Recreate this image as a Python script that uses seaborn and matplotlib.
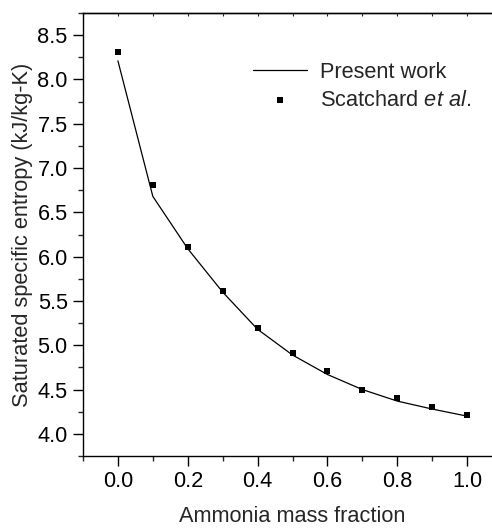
import numpy as np
import pandas as pd
import seaborn as sns
import matplotlib.pyplot as plt
from matplotlib.ticker import MultipleLocator

# Data
x_line = [0.0, 0.1, 0.2, 0.3, 0.4, 0.5, 0.6, 0.7, 0.8, 0.9, 1.0]
s_line = [8.21, 6.68, 6.09, 5.60, 5.18, 4.89, 4.67, 4.50, 4.37, 4.28, 4.20]

x_exp = [0.0, 0.1, 0.2, 0.3, 0.4, 0.5, 0.6, 0.7, 0.8, 0.9, 1.0]
s_exp = [8.31, 6.81, 6.11, 5.61, 5.20, 4.91, 4.71, 4.50, 4.40, 4.30, 4.21]

sns.set_style('ticks')
plt.rcParams['font.family'] = ['Liberation Sans', 'DejaVu Sans']
plt.rcParams['mathtext.fontset'] = 'custom'
plt.rcParams['mathtext.it'] = 'Liberation Sans:italic'
plt.rcParams['mathtext.rm'] = 'Liberation Sans'

fs = 15.7

fig = plt.figure(figsize=(4.92, 5.29), dpi=100)
# axes continue past the right edge of the picture, as in the reference
ax = fig.add_axes([83 / 492, (529 - 456) / 529, (502 - 83) / 492, (456 - 13) / 529])

df_line = pd.DataFrame({'x': x_line, 's': s_line})
df_exp = pd.DataFrame({'x': x_exp, 's': s_exp})

sns.lineplot(data=df_line, x='x', y='s', ax=ax, color='black', linewidth=0.9,
             label='Present work')
sns.scatterplot(data=df_exp, x='x', y='s', ax=ax, color='black', marker='s',
                s=16, linewidth=0, label='Scatchard $\\mathit{et\\ al.}$')

ax.set_xlim(-0.1, 1.1)
ax.set_ylim(3.75, 8.75)
ax.xaxis.set_minor_locator(MultipleLocator(0.1))
ax.yaxis.set_minor_locator(MultipleLocator(0.25))
ax.set_xticks(np.arange(0.0, 1.01, 0.2))
ax.set_xticklabels(['0.0', '0.2', '0.4', '0.6', '0.8', '1.0'])
ax.set_yticks(np.arange(4.0, 8.51, 0.5))

ax.tick_params(which='major', direction='out', length=7, width=1, labelsize=fs,
               colors='black', pad=4)
ax.tick_params(which='minor', direction='out', length=3.5, width=1)

# short inward ticks along the top spine, no labels
top = ax.secondary_xaxis('top')
top.set_xticks(np.arange(-0.1, 1.11, 0.1))
top.tick_params(direction='in', length=2.5, width=0.8, labeltop=False)
top.spines['top'].set_linewidth(1.0)

for sp in ['left', 'bottom', 'top']:
    ax.spines[sp].set_linewidth(1.0)
    ax.spines[sp].set_color('black')
ax.spines['right'].set_visible(False)

ax.set_xlabel('Ammonia mass fraction', fontsize=fs, labelpad=10)
ax.set_ylabel('Saturated specific entropy (kJ/kg-K)', fontsize=fs, labelpad=3)

leg = ax.legend(loc='upper left', bbox_to_anchor=(0.405, 0.89), frameon=False,
                fontsize=fs, handlelength=2.5, handletextpad=0.6,
                labelspacing=0.33, borderaxespad=0, borderpad=0)

fig.savefig('out.png', dpi=100)
